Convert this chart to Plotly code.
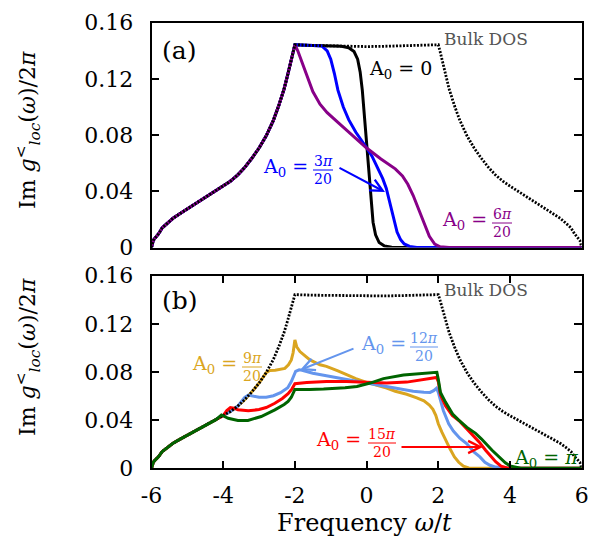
import plotly.graph_objects as go

W, H = 603, 546
FONT = "DejaVu Serif"

# ---------------- data ----------------
# Bulk DOS (both panels)
dos_left_x = [-6, -5.95, -5.9, -5.8, -5.7, -5.55, -5.4, -5.2, -5.0, -4.8, -4.6, -4.4, -4.2, -4.0,
              -3.8, -3.6, -3.4, -3.2, -3.0, -2.8, -2.6, -2.45, -2.3, -2.2, -2.1, -2.05, -2.0]
dos_left_y = [0, 0.005, 0.0068, 0.0098, 0.0140, 0.0175, 0.0208, 0.0242, 0.0274, 0.0310, 0.0342, 0.0373, 0.0404, 0.0437,
              0.0472, 0.0515, 0.0570, 0.0635, 0.0708, 0.0795, 0.0905, 0.1010, 0.1130, 0.1230, 0.1340, 0.1395, 0.1443]
dos_mid_x = [-1.5, -1.0, -0.5, 0, 0.5, 1.0, 1.5]
dos_mid_y = [0.1438, 0.1435, 0.1432, 0.1430, 0.1432, 0.1435, 0.1438]
dos_right_x = [2.0, 2.05, 2.1, 2.2, 2.3, 2.45, 2.6, 2.8, 3.0, 3.2, 3.4, 3.6, 3.8, 4.0,
               4.2, 4.4, 4.6, 4.8, 5.0, 5.2, 5.4, 5.55, 5.7, 5.8, 5.9, 5.95, 6]
dos_right_y = [0.1443, 0.1395, 0.1340, 0.1230, 0.1130, 0.1010, 0.0905, 0.0795, 0.0708, 0.0635, 0.0570, 0.0515, 0.0472, 0.0437,
               0.0404, 0.0373, 0.0342, 0.0310, 0.0274, 0.0242, 0.0208, 0.0175, 0.0140, 0.0098, 0.0068, 0.005, 0]

# Panel (a): parts of the curves after they leave the bulk DOS at w = -2
a0_0_x = [-1.5, -1.0, -0.7, -0.5, -0.35, -0.25, -0.18, -0.12, -0.06, 0, 0.06, 0.12, 0.18, 0.25, 0.35, 0.5, 0.7, 6]
a0_0_y = [0.1438, 0.1435, 0.1433, 0.1422, 0.1395, 0.1340, 0.1250, 0.1120, 0.0930, 0.0715, 0.0500, 0.0310, 0.0180,
          0.0090, 0.0035, 0.0010, 0.0002, 0.0]
a0_3_x = [-1.5, -1.25, -1.1, -1.0, -0.9, -0.8, -0.65, -0.5, -0.3, -0.1, 0, 0.15, 0.3, 0.45, 0.55, 0.65, 0.75, 0.85,
          0.95, 1.05, 1.2, 1.4, 6]
a0_3_y = [0.1438, 0.1435, 0.1400, 0.1340, 0.1240, 0.1120, 0.1000, 0.0910, 0.0820, 0.0750, 0.0710, 0.0650, 0.0575,
          0.0490, 0.0420, 0.0310, 0.0200, 0.0110, 0.0055, 0.0025, 0.0008, 0.0, 0.0]
a0_6_x = [-1.92, -1.85, -1.75, -1.65, -1.5, -1.3, -1.1, -0.8, -0.4, 0, 0.4, 0.8, 1.0, 1.15, 1.3, 1.45, 1.6, 1.75,
          1.9, 2.05, 2.3, 6]
a0_6_y = [0.1400, 0.1350, 0.1280, 0.1210, 0.1110, 0.1020, 0.0960, 0.0890, 0.0800, 0.0708, 0.0630, 0.0560, 0.0510,
          0.0450, 0.0370, 0.0270, 0.0170, 0.0080, 0.0025, 0.0005, 0.0, 0.0]

# Panel (b): parts of the curves after they leave the bulk DOS
a0_9_x = [-2.7, -2.55, -2.4, -2.28, -2.18, -2.1, -2.05, -2.0, -1.95, -1.86, -1.7, -1.58, -1.3, -1.12, -0.8, -0.56,
          -0.3, 0, 0.3, 0.56, 0.8, 1.12, 1.4, 1.6, 1.75, 1.85, 1.93, 2.0, 2.1, 2.2, 2.33, 2.45, 2.57, 2.7, 2.85,
          3.0, 6]
a0_9_y = [0.0812, 0.0815, 0.0820, 0.0830, 0.0860, 0.0900, 0.0960, 0.1066, 0.1010, 0.0970, 0.0930, 0.0900, 0.0860,
          0.0847, 0.0810, 0.0778, 0.0745, 0.0714, 0.0690, 0.0667, 0.0640, 0.0615, 0.0585, 0.0560, 0.0525, 0.0490,
          0.0440, 0.0370, 0.0300, 0.0235, 0.0160, 0.0095, 0.0050, 0.0017, 0.0003, 0.0, 0.0]
a0_12_x = [-3.4, -3.3, -3.2, -3.0, -2.8, -2.6, -2.4, -2.2, -2.1, -2.03, -1.98, -1.88, -1.8, -1.5, -1.3, -1.0, -0.74,
           -0.4, 0, 0.4, 0.74, 1.0, 1.3, 1.6, 1.77, 1.87, 1.95, 2.0, 2.05, 2.14, 2.29, 2.42, 2.6, 2.79, 3.0, 3.16,
           3.3, 3.44, 3.6, 3.8, 4.0, 6]
a0_12_y = [0.0590, 0.0608, 0.0600, 0.0590, 0.0590, 0.0603, 0.0628, 0.0670, 0.0720, 0.0780, 0.0805, 0.0818, 0.0815,
           0.0790, 0.0778, 0.0765, 0.0750, 0.0730, 0.0708, 0.0688, 0.0667, 0.0655, 0.0640, 0.0632, 0.0630, 0.0645,
           0.0665, 0.0630, 0.0570, 0.0480, 0.0370, 0.0310, 0.0250, 0.0205, 0.0135, 0.0095, 0.0050, 0.0025, 0.0010,
           0.0002, 0.0, 0.0]
a0_15_x = [-3.9, -3.8, -3.7, -3.59, -3.3, -3.0, -2.8, -2.56, -2.35, -2.19, -2.08, -2.0, -1.67, -1.12, -0.56, 0,
           0.56, 1.12, 1.58, 1.95, 2.0, 2.06, 2.2, 2.39, 2.6, 2.85, 3.0, 3.15, 3.32, 3.45, 3.6, 3.75, 3.9, 4.1, 6]
a0_15_y = [0.0480, 0.0505, 0.0500, 0.0487, 0.0478, 0.0488, 0.0505, 0.0540, 0.0580, 0.0620, 0.0660, 0.0703, 0.0712,
           0.0722, 0.0722, 0.0716, 0.0708, 0.0716, 0.0740, 0.0755, 0.0720, 0.0610, 0.0520, 0.0440, 0.0390, 0.0310,
           0.0270, 0.0215, 0.0150, 0.0105, 0.0055, 0.0018, 0.0005, 0.0, 0.0]
a0_20_x = [-4.05, -3.95, -3.86, -3.59, -3.31, -2.94, -2.56, -2.3, -2.19, -2.1, -2.03, -2.0, -1.6, -1.2, -0.6, -0.27,
           0.1, 0.47, 1.03, 1.59, 1.96, 2.0, 2.06, 2.2, 2.4, 2.57, 2.8, 3.04, 3.2, 3.5, 3.7, 3.87, 4.0, 4.15, 4.3, 6]
a0_20_y = [0.0443, 0.0425, 0.0415, 0.0398, 0.0398, 0.0430, 0.0485, 0.0530, 0.0555, 0.0590, 0.0640, 0.0655, 0.0655,
           0.0658, 0.0670, 0.0680, 0.0708, 0.0745, 0.0775, 0.0790, 0.0797, 0.0740, 0.0630, 0.0550, 0.0450, 0.0400,
           0.0340, 0.0290, 0.0245, 0.0150, 0.0090, 0.0045, 0.0020, 0.0008, 0.0, 0.0]

x_ticks = [-6, -4, -2, 0, 2, 4, 6]
x_tick_text = ["-6", "-4", "-2", "0", "2", "4", "6"]
y_ticks = [0, 0.04, 0.08, 0.12, 0.16]
y_tick_text = ["0", "0.04", "0.08", "0.12", "0.16"]

BLACK, BLUE, PURPLE = "#000000", "#0000FF", "#880088"
GOLD, CORN, RED, GREEN = "#DAA520", "#6495ED", "#FF0000", "#006400"
GREY = "#555555"

dos_x = dos_left_x + dos_mid_x + dos_right_x
dos_y = dos_left_y + dos_mid_y + dos_right_y


def dos_until(xmax):
    pts = [(x, y) for x, y in zip(dos_left_x, dos_left_y) if x <= xmax]
    return [p[0] for p in pts], [p[1] for p in pts]


def curve(x_tail, y_tail, xmax):
    hx, hy = dos_until(xmax)
    return hx + x_tail, hy + y_tail


fig = go.Figure()

def add(x, y, color, xa, ya, dash=None, width=3):
    fig.add_trace(go.Scatter(x=x, y=y, mode="lines", xaxis=xa, yaxis=ya,
                             line=dict(color=color, width=width, dash=dash), showlegend=False,
                             hoverinfo="skip"))

DOTS = "2px,1.5px"

# panel (a)
add(*curve(a0_0_x, a0_0_y, -2.0), BLACK, "x", "y")
add(*curve(a0_3_x, a0_3_y, -2.0), BLUE, "x", "y")
add(*curve(a0_6_x, a0_6_y, -2.0), PURPLE, "x", "y")
add(dos_x, dos_y, BLACK, "x", "y", dash=DOTS, width=2.8)

# panel (b)
add(*curve(a0_9_x, a0_9_y, -2.8), GOLD, "x2", "y2")
add(*curve(a0_12_x, a0_12_y, -3.5), CORN, "x2", "y2")
add(*curve(a0_15_x, a0_15_y, -4.0), RED, "x2", "y2")
add(dos_x, dos_y, BLACK, "x2", "y2", dash=DOTS, width=2.8)
add(*curve(a0_20_x, a0_20_y, -4.1), GREEN, "x2", "y2")

# ---------------- layout helpers (pixel -> paper) ----------------
def PX(px):
    return px / W


def PY(py):
    return 1 - py / H


annotations = []
shapes = []


def text(px, py, s, color="black", size=18, xanchor="center", yanchor="middle", pad=1):
    annotations.append(dict(x=PX(px), y=PY(py), xref="paper", yref="paper", text=s, showarrow=False,
                            xanchor=xanchor, yanchor=yanchor, borderpad=pad,
                            font=dict(family=FONT, size=size, color=color)))


def frac_label(right_px, bar_py, fx, num, color, den="20", fw=20):
    text(right_px, bar_py - 3, "A<sub>0</sub> =", color=color, size=19, xanchor="right", pad=0)
    text(fx, bar_py, num, color=color, size=14, yanchor="bottom", pad=0)
    text(fx, bar_py, den, color=color, size=14, yanchor="top", pad=0)
    shapes.append(dict(type="line", xref="paper", yref="paper", x0=PX(fx - fw / 2), x1=PX(fx + fw / 2),
                       y0=PY(bar_py), y1=PY(bar_py), line=dict(color=color, width=1)))


def arrow(tail, head, color):
    annotations.append(dict(x=PX(head[0]), y=PY(head[1]), xref="paper", yref="paper", text="",
                            showarrow=True, arrowhead=5, arrowsize=1.2, arrowwidth=2, arrowcolor=color,
                            ax=tail[0] - head[0], ay=tail[1] - head[1], axref="pixel", ayref="pixel"))


# panel (a) labels
text(179, 50, "(a)", size=25)
text(442, 39, "Bulk DOS", color=GREY, size=17, xanchor="left")
text(367, 69, "A<sub>0</sub> = 0", color=BLACK, size=19, xanchor="left")
frac_label(309, 170, 323, "3<i>π</i>", BLUE)
arrow((338, 167), (385, 192), BLUE)
frac_label(488, 223, 502, "6<i>π</i>", PURPLE)

# panel (b) labels
text(180, 300, "(b)", size=25)
text(442, 290, "Bulk DOS", color=GREY, size=17, xanchor="left")
frac_label(238, 367, 252, "9<i>π</i>", GOLD)
frac_label(407, 347, 424, "12<i>π</i>", CORN, fw=28)
arrow((355, 348), (300, 370), CORN)
frac_label(362, 443, 382, "15<i>π</i>", RED, fw=28)
arrow((400, 447), (483, 447), RED)
text(512, 458, "A<sub>0</sub> = <i>π</i>", color=GREEN, size=19, xanchor="left")

# axis titles
ytitle = "Im <i>g</i><sup>&lt;</sup><sub><i>loc</i></sub>(<i>ω</i>)/2<i>π</i>"
for cy in (130, 357):
    annotations.append(dict(x=PX(28), y=PY(cy), xref="paper", yref="paper", text=ytitle, showarrow=False,
                            textangle=-90, xanchor="center", yanchor="middle",
                            font=dict(family=FONT, size=22, color="black")))
text(364, 523, "Frequency <i>ω</i>/<i>t</i>", size=24)

xdom = [PX(151.5), PX(581.7)]
axis_common = dict(showline=True, linecolor="black", linewidth=1.5, mirror=True, showgrid=False,
                   zeroline=False, range=[-6, 6], automargin=False,
                   tickfont=dict(family=FONT, size=22, color="black"))
yaxis_common = dict(showline=True, linecolor="black", linewidth=1.5, mirror="ticks", showgrid=False,
                    zeroline=False, range=[0, 0.16], tickvals=y_ticks, ticktext=y_tick_text, automargin=False,
                    ticks="inside", ticklen=8, tickwidth=1.5, tickcolor="black", ticklabelstandoff=12,
                    tickfont=dict(family=FONT, size=22, color="black"))

fig.update_layout(
    width=W, height=H, margin=dict(l=0, r=0, t=0, b=0, autoexpand=False),
    paper_bgcolor="white", plot_bgcolor="white",
    xaxis=dict(axis_common, domain=xdom, anchor="y", showticklabels=False, ticks=""),
    yaxis=dict(yaxis_common, domain=[PY(247.5), PY(22.7)], anchor="x"),
    xaxis2=dict(axis_common, domain=xdom, anchor="y2", tickvals=x_ticks, ticktext=x_tick_text,
                ticks="inside", ticklen=8, tickwidth=1.5, tickcolor="black", mirror="ticks",
                ticklabelstandoff=7),
    yaxis2=dict(yaxis_common, domain=[PY(468.3), PY(275.7)], anchor="x2"),
    annotations=annotations, shapes=shapes, showlegend=False,
)

fig.write_html("out.html", config={"displayModeBar": False},
               post_script="document.body.style.margin='0px';document.body.style.overflow='hidden';")
